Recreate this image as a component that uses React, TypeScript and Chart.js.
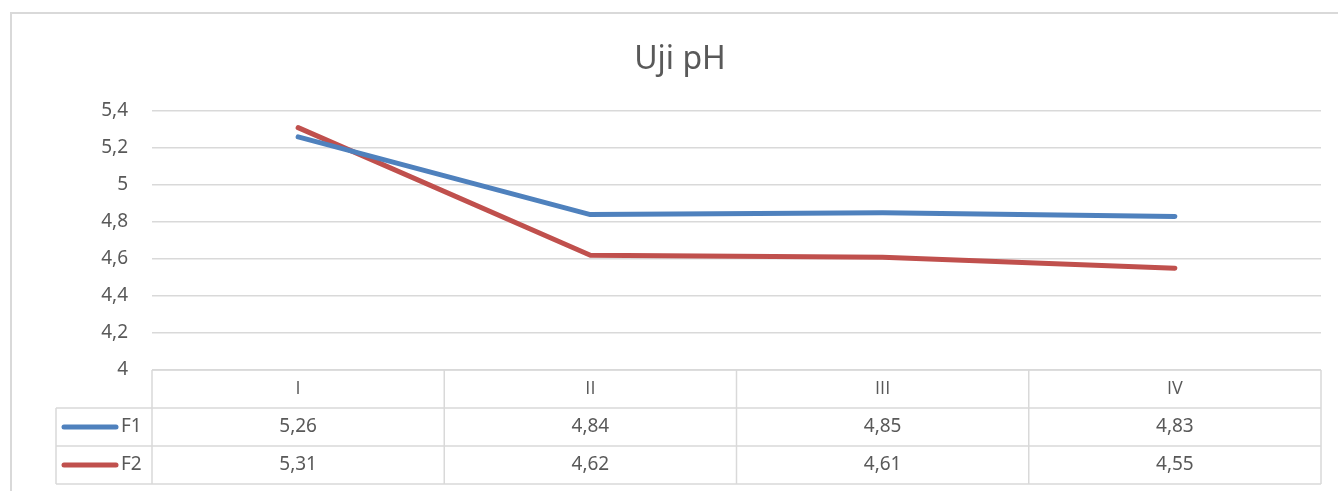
import React, { useEffect, useRef } from "react";
import { Chart, registerables } from "chart.js";

Chart.register(...registerables);

const categories = ["I", "II", "III", "IV"];
const seriesNames = ["F1", "F2"];
const f1Values = [5.26, 4.84, 4.85, 4.83];
const f2Values = [5.31, 4.62, 4.61, 4.55];
const seriesColors = ["#4f81bd", "#c0504d"];
const yMin = 4;
const yMax = 5.4;
const yStep = 0.2;
const titleText = "Uji pH";

const FONT = "'Noto Sans', 'Open Sans', sans-serif";
const HEADER_FONT = "'Open Sans', Lato, sans-serif";
const TEXT = "#595959";
const GRID = "#d9d9d9";

const fmt = (v: number, d: number) => v.toFixed(d).replace(".", ",");

const tablePlugin = {
  id: "dataTable",
  beforeDraw(chart: any) {
    const ctx = chart.ctx;
    ctx.save();
    ctx.strokeStyle = GRID;
    ctx.lineWidth = 2;
    ctx.beginPath();
    ctx.moveTo(11, chart.height);
    ctx.lineTo(11, 13);
    ctx.lineTo(chart.width, 13);
    ctx.stroke();
    ctx.fillStyle = TEXT;
    ctx.font = `32px ${FONT}`;
    ctx.textAlign = "center";
    ctx.textBaseline = "alphabetic";
    ctx.fillText(titleText, 680, 69);
    ctx.restore();
  },
  afterDraw(chart: any) {
    const ctx = chart.ctx;
    const xs = chart.scales.x;
    const area = chart.chartArea;
    const centers = categories.map((_, i) => xs.getPixelForValue(i));
    const edges: number[] = [area.left];
    for (let i = 0; i < centers.length - 1; i++) edges.push((centers[i] + centers[i + 1]) / 2);
    edges.push(area.right);
    const rowH = 38;
    const top = area.bottom;
    const legendLeft = 56;
    const rows = [f1Values, f2Values];
    const bottom = top + rowH * (rows.length + 1);

    ctx.save();
    ctx.strokeStyle = GRID;
    ctx.lineWidth = 1.5;
    ctx.beginPath();
    ctx.moveTo(area.left, top);
    ctx.lineTo(area.right, top);
    for (let r = 1; r <= rows.length + 1; r++) {
      ctx.moveTo(legendLeft, top + rowH * r);
      ctx.lineTo(area.right, top + rowH * r);
    }
    edges.forEach((e) => {
      ctx.moveTo(e, top);
      ctx.lineTo(e, bottom);
    });
    ctx.moveTo(legendLeft, top + rowH);
    ctx.lineTo(legendLeft, bottom);
    ctx.stroke();

    ctx.fillStyle = TEXT;
    ctx.font = `18px ${HEADER_FONT}`;
    ctx.textAlign = "center";
    ctx.textBaseline = "middle";
    categories.forEach((c, i) => ctx.fillText(c, centers[i], top + rowH / 2));
    ctx.font = `19px ${FONT}`;
    rows.forEach((vals, r) => {
      const cy = top + rowH * (r + 1) + rowH / 2;
      ctx.fillStyle = TEXT;
      ctx.textAlign = "center";
      vals.forEach((v, i) => ctx.fillText(fmt(v, 2), centers[i], cy));
      ctx.strokeStyle = seriesColors[r];
      ctx.lineWidth = 5;
      ctx.lineCap = "round";
      ctx.beginPath();
      ctx.moveTo(64, cy);
      ctx.lineTo(116, cy);
      ctx.stroke();
      ctx.textAlign = "left";
      ctx.fillText(seriesNames[r], 121, cy);
    });
    ctx.restore();
  },
};

export default function App() {
  const ref = useRef<HTMLCanvasElement>(null);
  useEffect(() => {
    let chart: Chart | null = null;
    let cancelled = false;
    const make = () => {
      if (cancelled || !ref.current) return;
      chart = new Chart(ref.current, {
        type: "line",
        data: {
          labels: categories,
          datasets: [
            { label: seriesNames[0], data: f1Values, borderColor: seriesColors[0], backgroundColor: seriesColors[0] },
            { label: seriesNames[1], data: f2Values, borderColor: seriesColors[1], backgroundColor: seriesColors[1] },
          ].map((d) => ({
            ...d,
            borderWidth: 5,
            pointRadius: 0,
            pointHoverRadius: 0,
            tension: 0,
            borderCapStyle: "round" as const,
            borderJoinStyle: "round" as const,
          })),
        },
        options: {
          responsive: false,
          animation: false,
          layout: { padding: { left: 0, top: 111, right: 17, bottom: 121 } },
          plugins: {
            legend: { display: false },
            tooltip: { enabled: false },
            title: { display: false },
          },
          scales: {
            x: {
              display: false,
              offset: true,
            },
            y: {
              min: yMin,
              max: yMax,
              afterFit: (s: any) => {
                s.width = 152;
              },
              border: { display: false },
              grid: { color: GRID, lineWidth: 1.5, drawTicks: false },
              ticks: {
                stepSize: yStep,
                padding: 24,
                color: TEXT,
                font: { family: FONT, size: 19 },
                callback: (v: any) => String(Math.round(Number(v) * 10) / 10).replace(".", ","),
              },
            },
          },
        },
        plugins: [tablePlugin],
      });
    };
    const fontsApi = (document as any).fonts;
    if (fontsApi && fontsApi.load) {
      Promise.all([
        fontsApi.load(`19px "Noto Sans"`),
        fontsApi.load(`32px "Noto Sans"`),
        fontsApi.load(`18px "Open Sans"`),
      ])
        .catch(() => null)
        .then(make);
    } else {
      make();
    }
    return () => {
      cancelled = true;
      if (chart) chart.destroy();
    };
  }, []);
  return (
    <div style={{ position: "absolute", left: 0, top: 0, width: 1338, height: 491, background: "#fff" }}>
      <canvas ref={ref} width={1338} height={491} style={{ display: "block" }} />
    </div>
  );
}
